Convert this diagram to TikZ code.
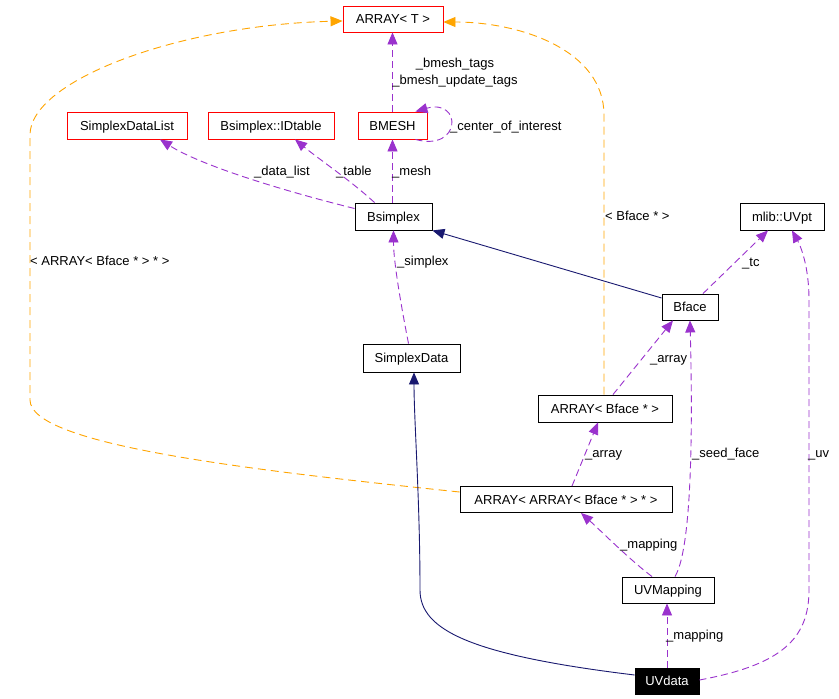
\documentclass[tikz,border=0pt]{standalone}
\usepackage{fontspec}
\setmainfont{Liberation Sans}
\usetikzlibrary{arrows.meta,calc}
\definecolor{usecol}{HTML}{9A32CD}
\definecolor{tplcol}{HTML}{FFA500}
\definecolor{inhcol}{HTML}{191970}
\definecolor{redbox}{HTML}{FF0000}
\begin{document}
\begin{tikzpicture}[x=1pt,y=-1pt,
  every node/.style={font=\fontsize{13}{15}\selectfont},
  box/.style={draw=black, line width=0.9pt, fill=white, inner sep=0pt, text height=9.4pt, text depth=0pt, minimum height=27pt},
  rbox/.style={box, draw=redbox},
  uselink/.style={draw=usecol, line width=0.9pt, dash pattern=on 7pt off 4pt, -{Triangle[length=12pt,width=10pt,fill=usecol]}},
  tpllink/.style={draw=tplcol, line width=0.9pt, dash pattern=on 8pt off 5pt, -{Triangle[length=12pt,width=10pt,fill=tplcol]}},
  inhlink/.style={draw=inhcol, line width=0.9pt, -{Triangle[length=12pt,width=10pt,fill=inhcol]}},
  lbl/.style={anchor=base west, inner sep=0pt, yshift=-4.7pt},
  lblc/.style={anchor=base, inner sep=0pt, yshift=-4.7pt}]
\useasboundingbox (0,0) rectangle (839,699);
\fill[white] (0,0) rectangle (839,699);

% nodes
\node[rbox, minimum width=100pt, minimum height=26pt] (arrT) at (393,19) {ARRAY< T >};
\node[rbox, minimum width=69pt] (bmesh) at (392.5,125.5) {BMESH};
\node[rbox, minimum width=120pt] (sdl) at (127,125.5) {SimplexDataList};
\node[rbox, minimum width=126pt] (idt) at (271,125.5) {Bsimplex::IDtable};
\node[box, minimum width=77pt] (bsx) at (393.5,216.5) {Bsimplex};
\node[box, minimum width=84pt] (uvpt) at (782,216.5) {mlib::UVpt};
\node[box, minimum width=56pt, minimum height=26pt] (bface) at (690,307) {Bface};
\node[box, minimum width=97pt, minimum height=28pt] (sd) at (411.5,358) {SimplexData};
\node[box, minimum width=134pt] (arrB) at (605,408.5) {ARRAY< Bface * >};
\node[box, minimum width=212pt, minimum height=26pt] (aarr) at (566,499.5) {ARRAY< ARRAY< Bface * > * >};
\node[box, minimum width=92pt, minimum height=26pt] (uvm) at (668,590) {UVMapping};
\node[box, fill=black, text=white, minimum width=64pt, minimum height=26pt] (uvd) at (667,681) {UVdata};

% template links
\draw[tpllink] ($(arrB.north)+(-1,0)$) -- (604,115) .. controls (604,50) and (520,22) .. ($(arrT.east)+(0,3)$);
\draw[tpllink] ($(aarr.west)+(0,-7.5)$) .. controls (250,470) and (30,445) .. (30,400) -- (30,135) .. controls (30,80) and (180,25) .. ($(arrT.west)+(0,2)$);

% inheritance links
\draw[inhlink] ($(bface.west)+(0,-9)$) -- (bsx.south east);
\draw[inhlink] ($(uvd.west)+(0,-6)$) .. controls (470,655) and (420,630) .. (420,590) .. controls (420,500) and (414,420) .. ($(sd.south)+(2.5,0)$);

% usage links
\draw[uselink] (bmesh.north) -- (bmesh.north |- arrT.south);
\draw[uselink] ($(bmesh.south east)+(-12,0)$) .. controls (462,152) and (462,98) .. ($(bmesh.north east)+(-12,0)$);
\draw[uselink] (bmesh.south |- bsx.north) -- (bmesh.south);
\draw[uselink] ($(bsx.north west)+(20,0)$) .. controls (350,180) and (320,160) .. ($(idt.south)+(24,0)$);
\draw[uselink] ($(bsx.west)+(0,-8)$) .. controls (280,190) and (200,165) .. ($(sdl.south)+(33,0)$);
\draw[uselink] ($(sd.north)+(-3,0)$) .. controls (400,300) and (393.5,260) .. (bsx.south);
\draw[uselink] ($(bface.north)+(13,0)$) -- ($(uvpt.south)+(-14,0)$);
\draw[uselink] ($(uvd.east)+(0,-1)$) .. controls (780,665) and (809,640) .. (809,590) -- (809,300) .. controls (809,265) and (800,245) .. ($(uvpt.south)+(10,0)$);
\draw[uselink] (uvd.north) -- (uvd.north |- uvm.south);
\draw[uselink] ($(uvm.north)+(-16,0)$) .. controls (630,560) and (600,530) .. ($(aarr.south)+(15,0)$);
\draw[uselink] ($(uvm.north)+(7,0)$) .. controls (694,545) and (692,400) .. (bface.south);
\draw[uselink] ($(aarr.north)+(6,0)$) -- ($(arrB.south)+(-7,0)$);
\draw[uselink] ($(arrB.north)+(8,0)$) -- ($(bface.south)+(-17,0)$);

% labels
\node[lblc] (l1) at (455,63) {\_bmesh\_tags};
\node[lblc] (l2) at (455,80) {\_bmesh\_update\_tags};
\node[lbl] (l3) at (450,126) {\_center\_of\_interest};
\node[lbl] (l4) at (254,171) {\_data\_list};
\node[lbl] (l5) at (336,171) {\_table};
\node[lbl] (l6) at (392,171) {\_mesh};
\node[lbl] (l7) at (605,216) {< Bface * >};
\node[lbl] (l8) at (30,261) {< ARRAY< Bface * > * >};
\node[lbl] (l9) at (397,261) {\_simplex};
\node[lbl] (l10) at (742,262) {\_tc};
\node[lbl] (l11) at (650,358) {\_array};
\node[lbl] (l12) at (585,453) {\_array};
\node[lbl] (l13) at (692,453) {\_seed\_face};
\node[lbl] (l14) at (808,453) {\_uv};
\node[lbl] (l15) at (620,544) {\_mapping};
\node[lbl] (l16) at (666,635) {\_mapping};
\end{tikzpicture}
\end{document}
